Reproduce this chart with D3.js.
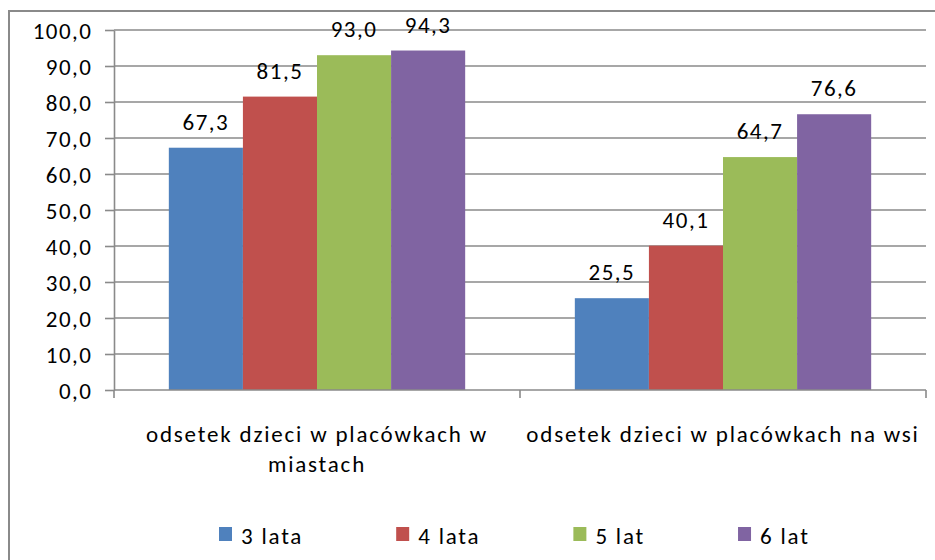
<!DOCTYPE html>
<html>
<head>
<meta charset="utf-8">
<script src="https://cdn.jsdelivr.net/npm/d3@7"></script>
<style>
  body { margin: 0; background: #fff; }
  text { font-family: Carlito, Calibri, Lato, sans-serif; fill: #000; }
</style>
</head>
<body>
<svg id="chart" width="935" height="560"></svg>
<script>
// data
var categories = ["odsetek dzieci w placówkach w miastach",
                  "odsetek dzieci w placówkach na wsi"];
var series = ["3 lata", "4 lata", "5 lat", "6 lat"];
var values = [[67.3, 81.5, 93.0, 94.3],
              [25.5, 40.1, 64.7, 76.6]];
var yTicks = [0, 10, 20, 30, 40, 50, 60, 70, 80, 90, 100];
var colors = ["#4f81bd", "#c0504d", "#9bbb59", "#8064a2"];

var svg = d3.select("#chart"),
    plot = {left: 114, right: 926, top: 30, bottom: 390},
    gridColor = "#8a8a8a",
    fsize = "23px",
    fmt = function(d) { return d3.format(".1f")(d).replace(".", ","); };

// outer frame (right and bottom edges fall outside the picture)
svg.append("rect")
    .attr("x", 9).attr("y", 11)
    .attr("width", 960).attr("height", 600)
    .attr("fill", "#fff")
    .attr("stroke", gridColor)
    .attr("stroke-width", 2);

var y = d3.scaleLinear().domain([0, 100]).range([plot.bottom, plot.top]);
var x0 = d3.scaleBand().domain(categories).range([plot.left, plot.right]);
var x1 = d3.scaleBand().domain(series).range([0, x0.bandwidth()]).paddingOuter(0.74);

// gridlines
svg.append("g").selectAll("line")
    .data(yTicks.filter(function(d) { return d > 0; }))
  .enter().append("line")
    .attr("x1", plot.left).attr("x2", plot.right)
    .attr("y1", function(d) { return y(d); })
    .attr("y2", function(d) { return y(d); })
    .attr("stroke", gridColor)
    .attr("stroke-width", 1.6);

// bars
var groups = svg.append("g").selectAll("g")
    .data(categories)
  .enter().append("g")
    .attr("transform", function(d) { return "translate(" + x0(d) + ",0)"; });

groups.selectAll("rect")
    .data(function(d, i) { return values[i].map(function(v, j) { return {s: series[j], v: v, c: colors[j]}; }); })
  .enter().append("rect")
    .attr("x", function(d) { return x1(d.s); })
    .attr("y", function(d) { return y(d.v); })
    .attr("width", x1.bandwidth())
    .attr("height", function(d) { return y(0) - y(d.v); })
    .attr("fill", function(d) { return d.c; });

groups.selectAll("text")
    .data(function(d, i) { return values[i].map(function(v, j) { return {s: series[j], v: v}; }); })
  .enter().append("text")
    .attr("x", function(d) { return x1(d.s) + x1.bandwidth() / 2; })
    .attr("y", function(d) { return y(d.v) - 18; })
    .attr("text-anchor", "middle")
    .attr("font-size", fsize)
    .attr("letter-spacing", "1.5px")
    .text(function(d) { return fmt(d.v); });

// y axis
var yAxis = svg.append("g")
    .attr("transform", "translate(" + plot.left + ",0)")
    .call(d3.axisLeft(y).tickValues(yTicks).tickSize(9).tickSizeOuter(0).tickFormat(fmt));
yAxis.select(".domain").attr("stroke", gridColor).attr("stroke-width", 1.6);
yAxis.selectAll(".tick line").attr("stroke", gridColor).attr("stroke-width", 1.6);
yAxis.selectAll(".tick text")
    .attr("x", -21.5)
    .attr("dy", "0.35em")
    .attr("font-size", fsize)
    .attr("letter-spacing", "1.5px");
yAxis.attr("font-family", null).attr("font-size", null);

// x axis line with ticks on category boundaries
var bounds = categories.map(function(c) { return x0(c); }).concat([plot.right]);
svg.append("line")
    .attr("x1", plot.left).attr("x2", plot.right)
    .attr("y1", y(0)).attr("y2", y(0))
    .attr("stroke", gridColor).attr("stroke-width", 1.6);
svg.append("g").selectAll("line")
    .data(bounds)
  .enter().append("line")
    .attr("x1", function(d) { return d; }).attr("x2", function(d) { return d; })
    .attr("y1", y(0)).attr("y2", y(0) + 8)
    .attr("stroke", gridColor).attr("stroke-width", 1.6);

// category labels, wrapped to the band width
svg.append("g").selectAll("text")
    .data(categories)
  .enter().append("text")
    .attr("text-anchor", "middle")
    .attr("font-size", fsize)
    .attr("letter-spacing", "1.8px")
    .each(function(d) {
        var t = d3.select(this),
            cx = x0(d) + x0.bandwidth() / 2,
            words = d.split(" "),
            lines = [], line = [];
        words.forEach(function(w) {
            line.push(w);
            t.text(line.join(" "));
            if (textLen(t) > x0.bandwidth() - 2 && line.length > 1) {
                line.pop();
                lines.push(line.join(" "));
                line = [w];
            }
        });
        lines.push(line.join(" "));
        t.text(null);
        lines.forEach(function(l, i) {
            t.append("tspan").attr("x", cx).attr("y", 442 + i * 30).text(l);
        });
    });

function textLen(sel) { return sel.node().getComputedTextLength(); }

// legend
var legend = svg.append("g");
var lx = 219;
series.forEach(function(s, i) {
    var g = legend.append("g").attr("transform", "translate(" + lx + ",527)");
    g.append("rect").attr("width", 13).attr("height", 14).attr("fill", colors[i]);
    var t = g.append("text")
        .attr("x", 22).attr("y", 17)
        .attr("font-size", fsize)
        .attr("letter-spacing", "1.8px")
        .text(s);
    lx += 22 + textLen(t) + 93;
});
</script>
</body>
</html>
